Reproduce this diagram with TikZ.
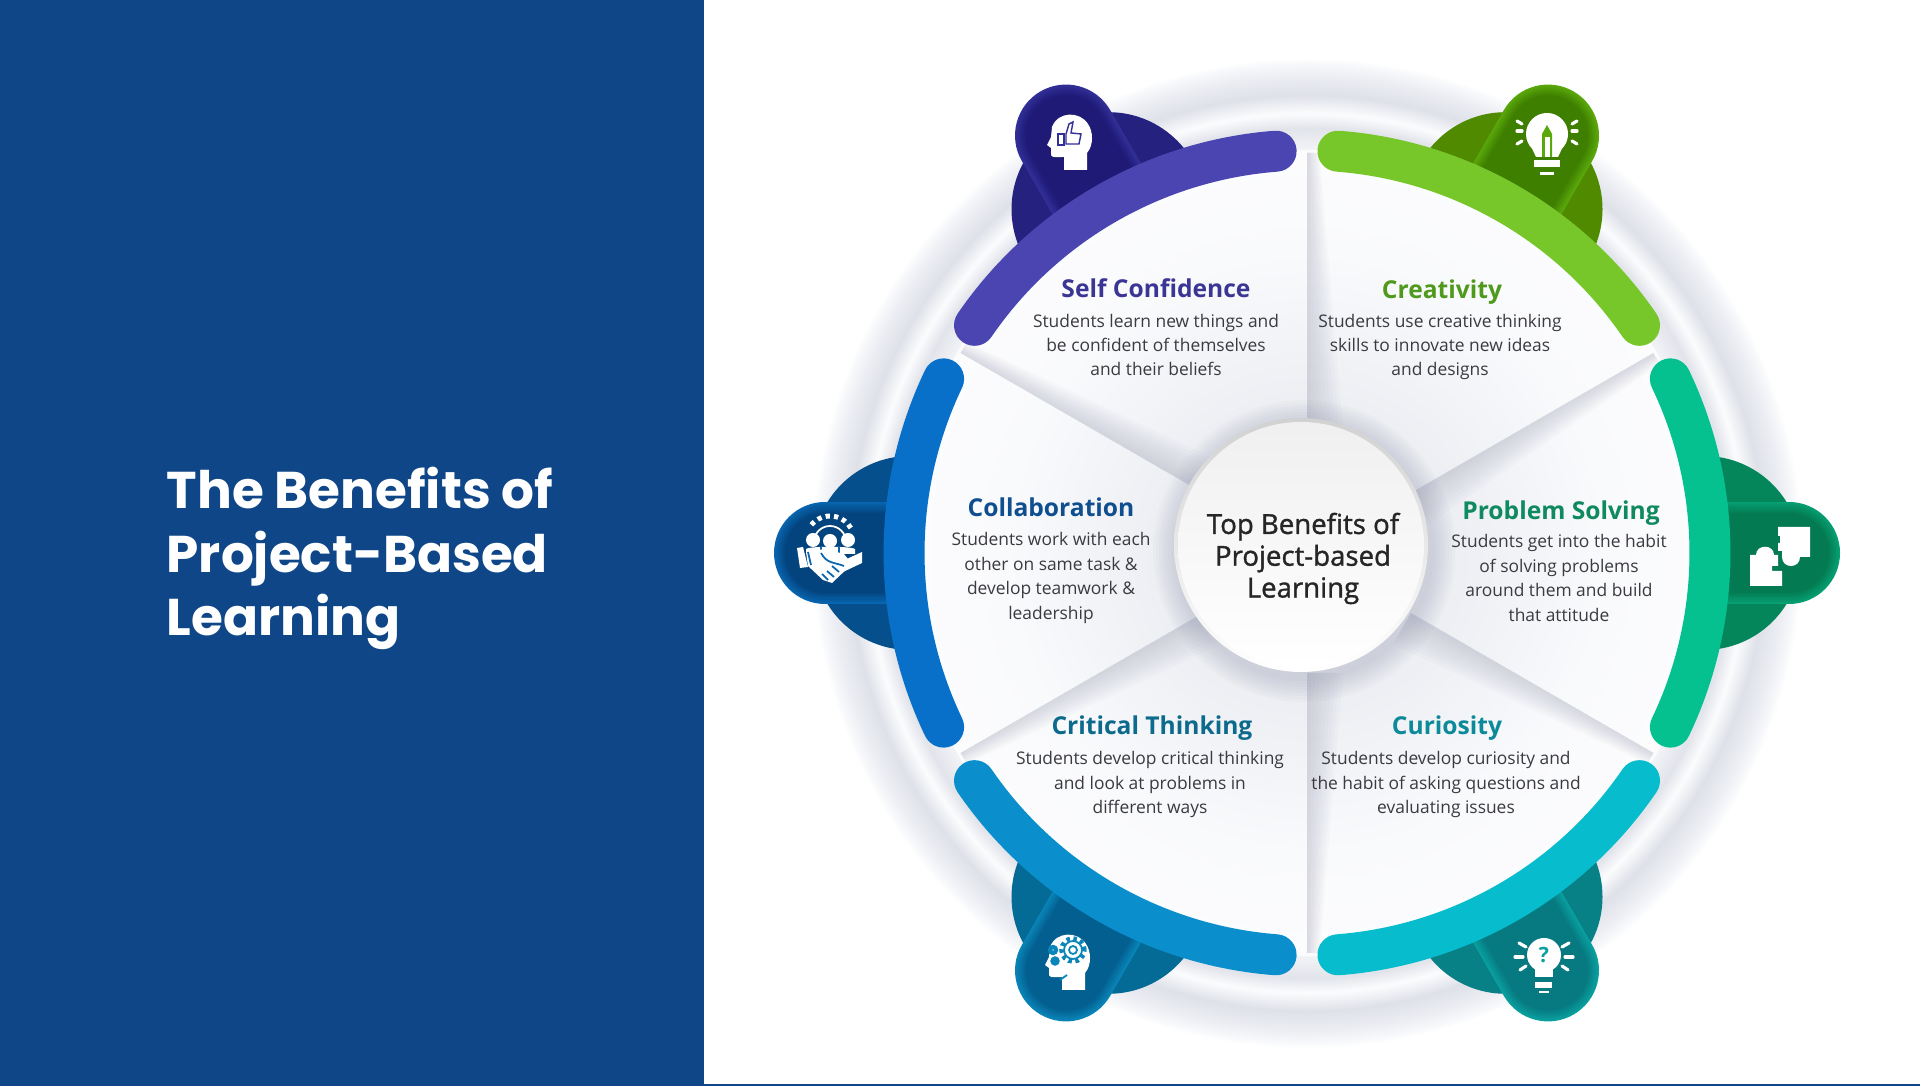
\documentclass[tikz,border=0pt]{standalone}
\usepackage{fontspec}
\setmainfont{Open Sans}
\newfontfamily\slidefont{Poppins}
\newfontfamily\hubfont[FakeBold = 1.2]{Open Sans}
\usetikzlibrary{calc}

\definecolor{panel}{HTML}{0F4688}
\definecolor{bodytext}{HTML}{3A3A40}
\definecolor{groove}{HTML}{8A8EA6}

\definecolor{arcself}{HTML}{4A45B0}
\definecolor{domeself}{HTML}{25217F}
\definecolor{edgeself}{HTML}{1E1A75}
\definecolor{midself}{HTML}{322F98}
\definecolor{headself}{HTML}{3B3694}

\definecolor{arccrea}{HTML}{78C72A}
\definecolor{domecrea}{HTML}{4F8A00}
\definecolor{edgecrea}{HTML}{3F7F00}
\definecolor{midcrea}{HTML}{5AA80C}
\definecolor{headcrea}{HTML}{4F9A1C}

\definecolor{arcprob}{HTML}{05C08F}
\definecolor{domeprob}{HTML}{04855A}
\definecolor{edgeprob}{HTML}{047A52}
\definecolor{midprob}{HTML}{05A072}
\definecolor{headprob}{HTML}{0F8A5F}

\definecolor{arccuri}{HTML}{07BCCD}
\definecolor{domecuri}{HTML}{078086}
\definecolor{edgecuri}{HTML}{067A80}
\definecolor{midcuri}{HTML}{0AA0A0}
\definecolor{headcuri}{HTML}{0D8A9A}

\definecolor{arccrit}{HTML}{0A8FCC}
\definecolor{domecrit}{HTML}{046A96}
\definecolor{edgecrit}{HTML}{035F90}
\definecolor{midcrit}{HTML}{0A85B8}
\definecolor{headcrit}{HTML}{0C6A8C}

\definecolor{arccoll}{HTML}{0870C9}
\definecolor{domecoll}{HTML}{054F8C}
\definecolor{edgecoll}{HTML}{03447E}
\definecolor{midcoll}{HTML}{0866B0}
\definecolor{headcoll}{HTML}{0F4E8F}

\definecolor{ringa}{HTML}{F7F8FA}
\definecolor{ringb}{HTML}{EEF0F4}
\definecolor{ringc}{HTML}{E2E4EB}
\definecolor{ringd}{HTML}{FBFCFD}
\definecolor{ringe}{HTML}{DFE1E9}
\definecolor{ringf}{HTML}{ECEEF3}
\definecolor{ringg}{HTML}{F8F9FB}
\definecolor{facea}{HTML}{EBEDF2}
\definecolor{faceb}{HTML}{F9FAFC}
\definecolor{facec}{HTML}{FCFCFD}

\pgfdeclareradialshading{wheelring}{\pgfpointorigin}{%
  color(0bp)=(ringa);color(19.95bp)=(ringa);color(20.6bp)=(ringb);%
  color(21.46bp)=(ringc);color(22.2bp)=(ringd);color(23.13bp)=(ringe);%
  color(24.14bp)=(ringf);color(24.75bp)=(ringg);color(25bp)=(white);color(50bp)=(white)}
\pgfdeclareradialshading{wheelface}{\pgfpointorigin}{%
  color(0bp)=(facea);color(8bp)=(facea);color(18.6bp)=(faceb);color(25bp)=(facec);color(50bp)=(facec)}

\tikzset{
  heading/.style = {font = \fontsize{7}{9}\selectfont\bfseries, inner sep = 0},
  blurb/.style = {font = \fontsize{4.95}{6.95}\selectfont, align = center,
    text = bodytext, inner sep = 0},
  ray/.style = {white, line width = .9pt, line cap = round}
}

\newcommand{\headpath}{(-.04, -.29) -- (.19, -.29) -- (.19, -.12)
  .. controls (.26, -.04) and (.25, .10) .. (.20, .17)
  .. controls (.12, .30) and (-.10, .30) .. (-.16, .14)
  -- (-.17, .04) -- (-.21, -.04) -- (-.17, -.07) -- (-.17, -.14)
  .. controls (-.16, -.17) and (-.12, -.16) .. (-.04, -.16) -- cycle}
\newcommand{\bulbpath}[1]{(-.11, -.23) -- (.11, -.23) -- ({#1*.7071}, {-#1*.7071})
  arc[radius = #1, start angle = -45, end angle = 225] -- cycle}

\begin{document}
\begin{tikzpicture}
  \useasboundingbox (0, 0) rectangle (19.2, 10.86);
  \coordinate (C) at (13.07, 5.33);
  \coordinate (hub) at (13.01, 5.41);

  \fill[white] (0, 0) rectangle (19.2, 10.86);
  \fill[panel] (0, 0) rectangle (7.04, 10.86);
  \fill[panel] (7.04, 0) rectangle (19.2, .02);

  \node[anchor = west, align = left, text = white, inner sep = 0,
  font = \fontsize{14.7}{18}\selectfont\slidefont\bfseries] (slidetitle) at (1.66, 5.275)
  {The Benefits of\\Project-Based\\Learning};

  \shade[shading = wheelring] (C) circle[radius = 4.95];

  \foreach \ang/\kind in {120/self, 60/crea, 0/prob, 300/curi, 240/crit, 180/coll} {
    \fill[dome\kind] ($(C) + (\ang:3.97)$) circle[radius = .97];
    \foreach \m in {0, 10, ..., 100} {
      \draw[edge\kind!\m!mid\kind, line cap = round, line width = {(1.02 - .0022*\m)*1cm}]
      ($(C) + (\ang:4.1)$) -- ($(C) + (\ang:4.82)$);
    }
  }

  \shade[shading = wheelface] (C) circle[radius = 4.03];

  \foreach \ang/\side in {90/-1, 30/-1, -30/-1, -90/1, 210/1, 150/-1} {
    \begin{scope}[shift = {(C)}, rotate = \ang]
      \foreach \w in {.04, .08, ..., .40} {
        \fill[groove, opacity = .035] (1.2, 0) -- (4.0, 0) -- (4.0, {\side*\w*.35})
        -- (1.2, {\side*\w}) -- cycle;
      }
    \end{scope}
  }

  \foreach \ang/\kind in {120/self, 60/crea, 0/prob, 300/curi, 240/crit, 180/coll} {
    \draw[arc\kind, line width = .41cm, line cap = round] ($(C) + (\ang - 25.6:4.03)$)
    arc[radius = 4.03, start angle = \ang - 25.6, delta angle = 51.2];
  }

  \foreach \r in {1.30, 1.33, ..., 1.52} {
    \fill[groove, opacity = .04] ($(hub) + (.03, -.06)$) circle[radius = \r];
  }
  \shade[top color = black!18, bottom color = white] (hub) circle[radius = 1.27];
  \shade[top color = black!6, bottom color = white] (hub) circle[radius = 1.23];
  \node[align = center, inner sep = 0, text = black!85,
  font = \fontsize{7.85}{9.05}\selectfont\hubfont] (hubtext) at (13.03, 5.275)
  {Top Benefits of\\Project-based\\Learning};

  \node[heading, text = headself] (selfhead) at (11.56, 7.98) {Self Confidence};
  \node[blurb] (selftext) at (11.56, 7.41)
  {Students learn new things and\\be confident of themselves\\and their beliefs};
  \node[heading, text = headcrea] (creahead) at (14.42, 7.94) {Creativity};
  \node[blurb] (creatext) at (14.40, 7.39)
  {Students use creative thinking\\skills to innovate new ideas\\and designs};
  \node[heading, text = headprob] (probhead) at (15.61, 5.73) {Problem Solving};
  \node[blurb] (probtext) at (15.59, 5.08)
  {Students get into the habit\\of solving problems\\around them and build\\that attitude};
  \node[heading, text = headcoll] (collhead) at (10.51, 5.79) {Collaboration};
  \node[blurb] (colltext) at (10.51, 5.08)
  {Students work with each\\other on same task \&\\develop teamwork \&\\leadership};
  \node[heading, text = headcrit] (crithead) at (11.52, 3.58) {Critical Thinking};
  \node[blurb] (crittext) at (11.50, 3.015)
  {Students develop critical thinking\\and look at problems in\\different ways};
  \node[heading, text = headcuri] (curihead) at (14.47, 3.58) {Curiosity};
  \node[blurb] (curitext) at (14.46, 3.015)
  {Students develop curiosity and\\the habit of asking questions and\\evaluating issues};

  \begin{scope}[shift = {(10.68, 9.45)}]
    \fill[white] \headpath;
    \draw[midself, line width = .4pt] (-.10, -.04) rectangle (-.04, .07);
    \draw[midself, line width = .4pt] (-.02, -.03) -- (.11, -.03) -- (.13, .07) -- (.03, .08)
    -- (.05, .19) -- (.01, .17) -- (-.02, .07) -- cycle;
  \end{scope}

  \begin{scope}[shift = {(15.47, 9.52)}]
    \fill[white] \bulbpath{.21};
    \fill[midcrea] (-.05, -.23) -- (-.05, .0) -- (0, .09) -- (.05, 0) -- (.05, -.23) -- cycle;
    \fill[white] (-.025, -.23) rectangle (.025, -.03);
    \fill[white] (-.13, -.26) rectangle (.13, -.33);
    \fill[white] (-.07, -.38) rectangle (.07, -.41);
    \draw[ray] (-.30, .03) -- (-.25, .03);
    \draw[ray] (.25, .03) -- (.30, .03);
    \draw[ray] (-.30, .13) -- (-.25, .10);
    \draw[ray] (.25, .10) -- (.30, .13);
    \draw[ray] (-.30, -.10) -- (-.25, -.07);
    \draw[ray] (.25, -.07) -- (.30, -.10);
  \end{scope}

  \begin{scope}[shift = {(17.80, 5.30)}]
    \fill[white] (-.02, .29) -- (.30, .29) -- (.30, -.01) -- (.20, -.01)
    .. controls (.20, -.13) and (.02, -.13) .. (.02, -.01) -- (.02, .05) -- (-.02, .05)
    -- (-.02, .13) -- (0, .13) -- (0, .20) -- (-.02, .20) -- cycle;
    \fill[white] (-.30, .01) -- (-.24, .01) .. controls (-.24, .12) and (-.06, .12) .. (-.06, .01)
    -- (-.02, .01) -- (-.02, -.10) -- (-.08, -.10) -- (-.08, -.15) -- (.02, -.15)
    -- (.02, -.30) -- (-.30, -.30) -- cycle;
  \end{scope}

  \begin{scope}[shift = {(15.44, 1.31)}]
    \fill[white] (-.09, -.22) rectangle (.09, -.1);
    \fill[white] (0, 0) circle[radius = .17];
    \fill[white] (-.09, -.27) rectangle (.08, -.33);
    \fill[white] (-.05, -.36) rectangle (.05, -.38);
    \node[text = midcuri, inner sep = 0, font = \fontsize{6}{6}\selectfont\bfseries] (quest)
    at (0, .0) {?};
    \draw[ray] (-.29, -.02) -- (-.21, -.02);
    \draw[ray] (.21, -.02) -- (.29, -.02);
    \draw[ray] (-.25, .12) -- (-.18, .08);
    \draw[ray] (.18, .08) -- (.25, .12);
    \draw[ray] (-.24, -.15) -- (-.18, -.11);
    \draw[ray] (.18, -.11) -- (.24, -.15);
  \end{scope}

  \begin{scope}[shift = {(10.66, 1.25)}]
    \fill[white] \headpath;
    \draw[midcrit, line width = 1.3pt, dash pattern = on 1pt off 1pt] (.07, .11) circle[radius = .115];
    \draw[midcrit, line width = .5pt] (.07, .11) circle[radius = .09];
    \draw[midcrit, line width = .5pt] (.07, .11) circle[radius = .04];
    \draw[midcrit, line width = 1.2pt] (-.13, .11) circle[radius = .03];
    \draw[midcrit, line width = 1.2pt] (-.11, 0) circle[radius = .025];
    \draw[midcrit, line width = .5pt] (-.06, -.19) -- (.01, -.14);
  \end{scope}

  \begin{scope}[shift = {(8.30, 5.34)}]
    \draw[white, line width = 1.4pt, dash pattern = on 1.2pt off 1.2pt]
    (.208, .24) arc[radius = .24, start angle = 30, end angle = 150];
    \draw[white, line width = .5pt] (.16, .10) arc[radius = .16, start angle = 0, end angle = 180];
    \fill[white] (-.17, .12) circle[radius = .07];
    \fill[white] (.18, .12) circle[radius = .07];
    \fill[white] (0, .11) circle[radius = .07];
    \fill[white] (-.24, -.02) -- (-.24, .03) .. controls (-.2, .06) and (.2, .06) .. (.25, .03)
    -- (.25, -.02) -- cycle;
    \draw[midcoll, line width = .5pt] (-.09, -.02) -- (-.09, .05) (.09, -.02) -- (.09, .05);
    \fill[white] (-.33, .04) -- (-.27, .05) -- (-.22, -.15) -- (-.30, -.16) -- cycle;
    \fill[white] (.32, 0) -- (.32, -.11) -- (.13, -.20) -- (.08, -.11) -- cycle;
    \fill[white] (-.24, 0) -- (-.05, .03) -- (.14, -.02) -- (.22, -.12) -- (.02, -.31)
    -- (-.07, -.28) -- (-.22, -.14) -- cycle;
    \draw[midcoll, line width = .5pt] (-.22, .0) -- (-.19, -.13) (-.09, -.01)
    .. controls (-.03, -.12) and (.04, -.1) .. (.14, -.14)
    (.09, -.20) -- (.02, -.14) (.04, -.25) -- (-.03, -.19) (-.02, -.28) -- (-.08, -.22);
  \end{scope}
\end{tikzpicture}
\end{document}
